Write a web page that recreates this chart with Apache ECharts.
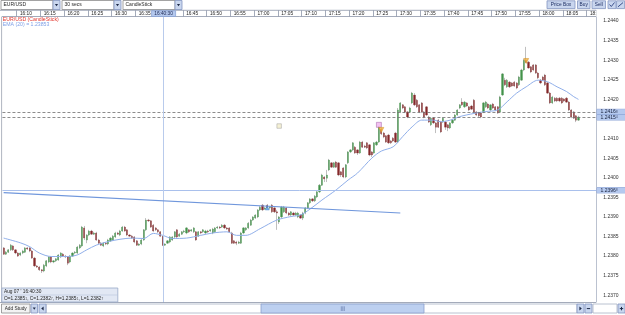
<!DOCTYPE html>
<html><head><meta charset="utf-8">
<script src="https://cdn.jsdelivr.net/npm/echarts@6/dist/echarts.min.js"></script>
<style>html,body{margin:0;padding:0;background:#fff;overflow:hidden}#c{width:625px;height:315px}</style>
</head><body><div id="c"></div>
<script>
// ---------------- data ----------------
const symbolName = 'EUR/USD';
const periodName = '30 secs';
const chartType = 'CandleStick';
const startTime = '16:07:00';
const stepSeconds = 30;
const slotCount = 250;
const timeTicks = ['16:10','16:15','16:20','16:25','16:30','16:35','16:40','16:45','16:50','16:55','17:00','17:05','17:10','17:15','17:20','17:25','17:30','17:35','17:40','17:45','17:50','17:55','18:00','18:05','18:10'];
const priceTicks = [1.2370,1.2375,1.2380,1.2385,1.2390,1.2395,1.2400,1.2405,1.2410,1.2415,1.2420,1.2425,1.2430,1.2435,1.2440];

const opens = [1.23821,1.23805,1.23810,1.23816,1.23826,1.23816,1.23808,1.23803,1.23808,1.23810,
1.23821,1.23821,1.23813,1.23795,1.23775,1.23772,1.23765,1.23762,1.23775,1.23785,
1.23798,1.23785,1.23788,1.23790,1.23798,1.23805,1.23800,1.23798,1.23785,1.23800,
1.23808,1.23808,1.23821,1.23826,1.23872,1.23841,1.23854,1.23864,1.23856,1.23859,
1.23841,1.23833,1.23826,1.23833,1.23831,1.23839,1.23841,1.23849,1.23859,1.23854,
1.23864,1.23874,1.23867,1.23854,1.23851,1.23849,1.23839,1.23828,1.23831,1.23841,
1.23867,1.23892,1.23890,1.23879,1.23872,1.23867,1.23862,1.23851,1.23828,1.23833,
1.23836,1.23841,1.23849,1.23867,1.23851,1.23856,1.23862,1.23859,1.23867,1.23864,
1.23862,1.23862,1.23851,1.23862,1.23862,1.23859,1.23864,1.23864,1.23859,1.23862,
1.23872,1.23874,1.23874,1.23879,1.23872,1.23872,1.23859,1.23839,1.23836,1.23833,
1.23833,1.23859,1.23867,1.23872,1.23879,1.23892,1.23897,1.23900,1.23918,1.23930,
1.23920,1.23930,1.23923,1.23930,1.23923,1.23913,1.23887,1.23900,1.23913,1.23923,
1.23910,1.23905,1.23910,1.23905,1.23900,1.23905,1.23897,1.23910,1.23923,1.23936,
1.23946,1.23941,1.23951,1.23964,1.23981,1.24002,1.23999,1.24020,1.24038,1.24027,
1.24040,1.24038,1.24015,1.24025,1.24002,1.24038,1.24066,1.24071,1.24078,1.24071,
1.24063,1.24091,1.24081,1.24089,1.24084,1.24066,1.24063,1.24084,1.24091,1.24124,
1.24114,1.24107,1.24109,1.24094,1.24101,1.24114,1.24091,1.24168,1.24186,1.24181,
1.24168,1.24168,1.24191,1.24211,1.24198,1.24186,1.24191,1.24168,1.24181,1.24155,
1.24135,1.24152,1.24140,1.24147,1.24142,1.24142,1.24142,1.24135,1.24127,1.24140,
1.24147,1.24160,1.24178,1.24193,1.24181,1.24191,1.24181,1.24183,1.24198,1.24168,
1.24165,1.24165,1.24168,1.24181,1.24188,1.24173,1.24188,1.24181,1.24181,1.24168,
1.24211,1.24249,1.24232,1.24244,1.24242,1.24244,1.24242,1.24237,1.24249,1.24275,
1.24300,1.24295,1.24283,1.24288,1.24288,1.24267,1.24249,1.24257,1.24262,1.24242,
1.24216,1.24191,1.24203,1.24203,1.24203,1.24203,1.24201,1.24203,1.24193,1.24173,
1.24168,1.24158,1.24147];

const closes = [1.23805,1.23810,1.23816,1.23828,1.23816,1.23808,1.23800,1.23808,1.23813,1.23821,
1.23818,1.23813,1.23795,1.23775,1.23772,1.23765,1.23762,1.23777,1.23788,1.23798,
1.23785,1.23788,1.23793,1.23803,1.23808,1.23800,1.23798,1.23782,1.23800,1.23808,
1.23810,1.23823,1.23828,1.23874,1.23846,1.23854,1.23864,1.23856,1.23859,1.23841,
1.23833,1.23828,1.23833,1.23831,1.23841,1.23846,1.23851,1.23859,1.23856,1.23864,
1.23874,1.23864,1.23854,1.23851,1.23846,1.23836,1.23828,1.23831,1.23841,1.23867,
1.23892,1.23890,1.23874,1.23864,1.23867,1.23862,1.23851,1.23827,1.23831,1.23839,
1.23849,1.23849,1.23862,1.23849,1.23856,1.23862,1.23864,1.23872,1.23862,1.23867,
1.23872,1.23841,1.23862,1.23859,1.23867,1.23864,1.23862,1.23867,1.23869,1.23872,
1.23874,1.23872,1.23879,1.23872,1.23869,1.23862,1.23833,1.23833,1.23833,1.23836,
1.23859,1.23872,1.23872,1.23884,1.23892,1.23900,1.23905,1.23918,1.23925,1.23918,
1.23923,1.23923,1.23925,1.23913,1.23913,1.23910,1.23900,1.23925,1.23925,1.23910,
1.23905,1.23913,1.23905,1.23910,1.23910,1.23897,1.23910,1.23923,1.23936,1.23946,
1.23941,1.23953,1.23964,1.23981,1.24007,1.23997,1.24007,1.24045,1.24027,1.24038,
1.24027,1.24007,1.24007,1.24002,1.24033,1.24066,1.24071,1.24089,1.24063,1.24063,
1.24091,1.24078,1.24078,1.24076,1.24058,1.24058,1.24089,1.24091,1.24129,1.24112,
1.24104,1.24091,1.24089,1.24089,1.24094,1.24091,1.24173,1.24191,1.24178,1.24168,
1.24155,1.24178,1.24216,1.24186,1.24181,1.24168,1.24168,1.24155,1.24160,1.24142,
1.24152,1.24140,1.24129,1.24129,1.24117,1.24152,1.24129,1.24127,1.24140,1.24147,
1.24160,1.24173,1.24186,1.24186,1.24193,1.24183,1.24173,1.24175,1.24168,1.24160,
1.24158,1.24155,1.24191,1.24193,1.24178,1.24186,1.24178,1.24173,1.24165,1.24206,
1.24265,1.24237,1.24249,1.24232,1.24234,1.24234,1.24229,1.24257,1.24275,1.24300,
1.24295,1.24280,1.24270,1.24275,1.24267,1.24255,1.24242,1.24249,1.24237,1.24216,
1.24191,1.24206,1.24196,1.24196,1.24196,1.24191,1.24196,1.24193,1.24173,1.24155,
1.24152,1.24147,1.24155];

const highs = [1.23823,1.23813,1.23818,1.23831,1.23828,1.23818,1.23810,1.23810,1.23816,1.23823,
1.23823,1.23823,1.23816,1.23798,1.23777,1.23775,1.23767,1.23780,1.23790,1.23800,
1.23800,1.23790,1.23795,1.23805,1.23810,1.23808,1.23803,1.23800,1.23803,1.23810,
1.23813,1.23826,1.23831,1.23877,1.23877,1.23856,1.23867,1.23867,1.23862,1.23862,
1.23844,1.23836,1.23836,1.23836,1.23844,1.23849,1.23854,1.23862,1.23862,1.23867,
1.23877,1.23877,1.23869,1.23856,1.23854,1.23851,1.23841,1.23833,1.23844,1.23869,
1.23897,1.23895,1.23892,1.23882,1.23874,1.23869,1.23864,1.23851,1.23833,1.23841,
1.23851,1.23851,1.23864,1.23869,1.23859,1.23864,1.23867,1.23874,1.23869,1.23869,
1.23874,1.23864,1.23864,1.23864,1.23869,1.23867,1.23867,1.23869,1.23872,1.23874,
1.23877,1.23877,1.23882,1.23882,1.23874,1.23874,1.23862,1.23841,1.23839,1.23839,
1.23862,1.23874,1.23874,1.23887,1.23895,1.23902,1.23907,1.23920,1.23928,1.23933,
1.23925,1.23933,1.23928,1.23933,1.23925,1.23918,1.23902,1.23928,1.23928,1.23925,
1.23913,1.23915,1.23913,1.23913,1.23913,1.23907,1.23913,1.23925,1.23938,1.23948,
1.23948,1.23956,1.23966,1.23984,1.24010,1.24004,1.24020,1.24048,1.24040,1.24040,
1.24043,1.24040,1.24017,1.24027,1.24035,1.24068,1.24073,1.24091,1.24081,1.24073,
1.24094,1.24094,1.24084,1.24091,1.24086,1.24068,1.24091,1.24094,1.24132,1.24127,
1.24117,1.24109,1.24112,1.24096,1.24104,1.24117,1.24178,1.24193,1.24188,1.24183,
1.24170,1.24181,1.24219,1.24216,1.24201,1.24188,1.24193,1.24170,1.24183,1.24158,
1.24155,1.24155,1.24142,1.24150,1.24145,1.24155,1.24145,1.24137,1.24142,1.24150,
1.24163,1.24175,1.24188,1.24203,1.24196,1.24193,1.24183,1.24186,1.24201,1.24170,
1.24168,1.24168,1.24193,1.24196,1.24191,1.24188,1.24191,1.24183,1.24183,1.24209,
1.24267,1.24255,1.24252,1.24247,1.24244,1.24247,1.24244,1.24260,1.24278,1.24303,
1.24334,1.24298,1.24285,1.24290,1.24290,1.24270,1.24252,1.24260,1.24265,1.24244,
1.24219,1.24209,1.24206,1.24206,1.24206,1.24206,1.24203,1.24206,1.24196,1.24175,
1.24170,1.24160,1.24158];

const lows = [1.23803,1.23803,1.23808,1.23813,1.23813,1.23805,1.23798,1.23800,1.23805,1.23808,
1.23816,1.23810,1.23793,1.23772,1.23770,1.23762,1.23757,1.23759,1.23772,1.23782,
1.23782,1.23782,1.23785,1.23788,1.23795,1.23798,1.23795,1.23777,1.23782,1.23798,
1.23805,1.23805,1.23818,1.23823,1.23841,1.23833,1.23851,1.23854,1.23854,1.23839,
1.23831,1.23826,1.23823,1.23828,1.23828,1.23836,1.23839,1.23846,1.23854,1.23851,
1.23862,1.23862,1.23851,1.23849,1.23844,1.23833,1.23826,1.23826,1.23828,1.23839,
1.23864,1.23887,1.23872,1.23862,1.23864,1.23859,1.23849,1.23827,1.23826,1.23831,
1.23833,1.23839,1.23846,1.23846,1.23849,1.23854,1.23859,1.23856,1.23859,1.23862,
1.23859,1.23839,1.23849,1.23856,1.23859,1.23856,1.23859,1.23862,1.23856,1.23859,
1.23869,1.23869,1.23872,1.23869,1.23867,1.23859,1.23831,1.23831,1.23828,1.23831,
1.23831,1.23856,1.23864,1.23869,1.23877,1.23890,1.23895,1.23897,1.23915,1.23915,
1.23918,1.23920,1.23920,1.23910,1.23910,1.23867,1.23882,1.23897,1.23910,1.23907,
1.23902,1.23902,1.23902,1.23902,1.23897,1.23895,1.23892,1.23907,1.23920,1.23933,
1.23938,1.23938,1.23948,1.23961,1.23979,1.23989,1.23989,1.24017,1.24025,1.24025,
1.24025,1.24004,1.24002,1.23999,1.23999,1.24035,1.24063,1.24068,1.24061,1.24058,
1.24061,1.24076,1.24076,1.24073,1.24055,1.24053,1.24061,1.24081,1.24089,1.24109,
1.24101,1.24089,1.24086,1.24086,1.24091,1.24089,1.24089,1.24165,1.24175,1.24165,
1.24152,1.24165,1.24188,1.24183,1.24178,1.24165,1.24165,1.24152,1.24158,1.24140,
1.24132,1.24137,1.24114,1.24127,1.24114,1.24140,1.24122,1.24119,1.24124,1.24137,
1.24145,1.24158,1.24175,1.24183,1.24178,1.24181,1.24170,1.24173,1.24165,1.24158,
1.24155,1.24152,1.24165,1.24178,1.24175,1.24170,1.24175,1.24170,1.24163,1.24165,
1.24209,1.24234,1.24229,1.24229,1.24232,1.24232,1.24226,1.24234,1.24247,1.24272,
1.24293,1.24278,1.24267,1.24272,1.24265,1.24252,1.24239,1.24247,1.24234,1.24214,
1.24188,1.24188,1.24193,1.24193,1.24193,1.24188,1.24193,1.24191,1.24170,1.24152,
1.24150,1.24142,1.24145];

// EMA(20) study at these candle positions
const emaIdx = [0,7,11,15,20,27,31,35,39,44,49,54,59,63,67,71,77,83,88,94,98,102,108,115,121,125,129,134,140,145,149,155,159,164,168,172,176,181,184,188,192,198,203,208,212,216,220,225,229,233,237,240,242];
const emaVals = [1.23846,1.23834,1.23824,1.23808,1.23799,1.23799,1.23803,1.23816,1.23828,1.23837,1.23843,1.23846,1.23845,1.23858,1.23853,1.23845,1.23846,1.23853,1.23859,1.23862,1.23853,1.23853,1.23870,1.23892,1.23901,1.23905,1.23920,1.23943,1.23969,1.23994,1.24012,1.24050,1.24068,1.24079,1.24105,1.24130,1.24147,1.24147,1.24143,1.24147,1.24156,1.24164,1.24169,1.24173,1.24194,1.24216,1.24232,1.24249,1.24245,1.24232,1.24220,1.24207,1.24200];

// drawn trend line (candle index, price)
const trendIdx = [0, 167];
const trendPrice = [1.23962, 1.23910];

// chart annotations
const markerIdx = [111, 116, 158, 159, 220];
const markerPrice = [1.23923, 1.24132, 1.24135, 1.24122, 1.24298];
const markerKind = ['pin', 'anchor', 'box', 'arrow', 'arrow'];

// crosshair and price lines
const crossIndex = 67;
const crossPrice = 1.23968;
const bidLine = 1.24168;
const askLine = 1.24154;
const crossDateLabel = "Aug 07 '";

// ---------------- build ----------------
function pad(n){return (n<10?'0':'')+n;}
function buildTimes(){
  const p = startTime.split(':').map(Number);
  const t0 = p[0]*3600+p[1]*60+p[2];
  const out = [];
  for (let k=0;k<slotCount;k++){
    const t=t0+k*stepSeconds;
    out.push(pad(Math.floor(t/3600))+':'+pad(Math.floor(t/60)%60)+':'+pad(t%60));
  }
  return out;
}
const times = buildTimes();
const crossTime = times[crossIndex];
const isTick = (i, v) => v.slice(6)==='00' && timeTicks.indexOf(v.slice(0,5))>=0;

const wickData = opens.map((o,i)=>[o, closes[i], lows[i], highs[i]]);
const bodyData = opens.map((o,i)=>[o, closes[i], Math.min(o,closes[i]), Math.max(o,closes[i])]);
const emaData = emaIdx.map((k,j)=>[k, emaVals[j]]);
const trendData = trendIdx.map((k,j)=>[k, trendPrice[j]]);
const markerStyle = {
  pin:    {symbol:'triangle', size:4, rotate:0, color:'#5ea6e8', border:'#3a7cc0'},
  anchor: {symbol:'rect', size:4.5, rotate:0, color:'#f3edca', border:'#9a9a9a'},
  box:    {symbol:'rect', size:5, rotate:0, color:'#f1b2ee', border:'#9a5aa0'},
  arrow:  {symbol:'triangle', size:5, rotate:180, color:'#f3b23c', border:'#d08a18'}
};
const markerData = markerIdx.map((k,j)=>{
  const s = markerStyle[markerKind[j]];
  return {value:[k, markerPrice[j]], symbol:s.symbol, symbolSize:s.size, symbolRotate:s.rotate,
          itemStyle:{color:s.color, borderColor:s.border, borderWidth:0.6}};
});
const splitPrice = v => { const s=v.toFixed(5); return [s.slice(0,6), s.slice(6)]; };
const emaAtCross = emaVals[emaIdx.indexOf(crossIndex)];

const FONT = 'Liberation Sans, Arial, sans-serif';
const upColor = '#43924a', downColor = '#84282a', wickColor = '#b8b8b8';
const gridL = 2.44, gridW = 593.8;

function R(x,y,w,h,fill,stroke,z){return {type:'rect',shape:{x:x,y:y,width:w,height:h},style:{fill:fill,stroke:stroke||null,lineWidth:stroke?0.8:0},z:z||100,silent:true};}
function T(x,y,text,o){o=o||{};const st={text:text,fill:o.color||'#1e1e1e',fontSize:o.size||5,fontFamily:FONT,align:o.align||'left',verticalAlign:'middle'}; if(o.rich) st.rich=o.rich; return {type:'text',x:x,y:y,style:st,z:o.z||110,silent:true};}
function L(x1,y1,x2,y2,color,z,w){return {type:'line',shape:{x1:x1,y1:y1,x2:x2,y2:y2},style:{stroke:color,lineWidth:w||0.8},z:z||105,silent:true};}
function P(points,fill,z){return {type:'polygon',shape:{points:points},style:{fill:fill},z:z||112,silent:true};}

const btnFill = '#c9d6ee', btnStroke = '#8396c0', btnText = '#1b2b60';
const G = [];
// header background
G.push(R(0,0,625,16.6,'#ffffff',null,100));
// dropdowns
[[1,symbolName],[62,periodName],[123,chartType]].forEach(d=>{
  const x=d[0];
  G.push(R(x,0.5,52,9,'#ffffff','#8c8c8c',105));
  G.push(T(x+2.5,5.1,d[1],{size:5}));
  G.push(R(x+52,0.5,7,9,btnFill,btnStroke,106));
  G.push(P([[x+53.9,4],[x+57.1,4],[x+55.5,6.3]],'#1e2a48'));
});
// right buttons
G.push(R(547,0.8,28,7.8,btnFill,btnStroke,105)); G.push(T(561,4.8,'Price Box',{align:'center',color:btnText,size:4.8}));
G.push(R(577.5,0.8,12.5,7.8,btnFill,btnStroke,105)); G.push(T(583.7,4.8,'Buy',{align:'center',color:btnText,size:4.8}));
G.push(R(592,0.8,13.5,7.8,btnFill,btnStroke,105)); G.push(T(598.7,4.8,'Sell',{align:'center',color:btnText,size:4.8}));
G.push(R(608,0.8,8,7.8,btnFill,btnStroke,105));
G.push(L(609.5,4.5,611.3,6.5,'#2a3f80',112,0.9)); G.push(L(611.3,6.5,614.5,2.5,'#2a3f80',112,0.9));
G.push(R(616.6,0.8,8,7.8,btnFill,btnStroke,105));
G.push(L(618,6.8,623,2.6,'#2a3f80',112,0.9));
// time row lines
G.push(L(0,10.3,596,10.3,'#8d96a8',105));
G.push(R(596.3,10.4,29,6.4,'#ffffff',null,250));
// crosshair time label
G.push(R(151.6,10.7,24,5.8,'#b5c9ee','#8aa3d6',300));
G.push(T(163.6,13.7,crossTime,{align:'center',size:4.8,z:310,color:'#1a2550'}));
// legend
G.push(T(2.8,19.3,symbolName+' ('+chartType+')',{color:'#e2342c',size:5.2,z:120}));
G.push(T(2.8,24.3,'EMA (20) = '+emaAtCross.toFixed(5),{color:'#7d9fe6',size:5.2,z:120}));
// left border
G.push(L(1.6,16.6,1.6,302.5,'#9aa2b0',105));
// footer
G.push(R(0,302.4,625,12.6,'#ffffff',null,100));
G.push(L(0,302.5,596,302.5,'#8d96a8',106));
G.push(R(1.5,304,28.5,9,'#f3f3f3','#8a8a8a',105)); G.push(T(15.7,308.6,'Add Study',{align:'center',size:4.8}));
G.push(R(31,304,6.5,9,btnFill,btnStroke,105)); G.push(P([[32.7,307.6],[35.8,307.6],[34.25,309.8]],'#1e2a48'));
G.push(R(39,304,7,9,btnFill,btnStroke,105)); G.push(P([[43.6,306.6],[43.6,310.6],[41.2,308.6]],'#1e2a48'));
G.push(R(46,304,531,9,'#ffffff','#a8b2c4',104));
G.push(R(261,304,163,9,'#bdd0f0','#8aa0cc',105));
G.push(L(341.3,306.3,341.3,311,'#6a80b0',112,0.7)); G.push(L(342.8,306.3,342.8,311,'#6a80b0',112,0.7)); G.push(L(344.3,306.3,344.3,311,'#6a80b0',112,0.7));
G.push(R(577,304,7,9,btnFill,btnStroke,105)); G.push(P([[579.4,306.6],[579.4,310.6],[581.8,308.6]],'#1e2a48'));
G.push(R(585,304,7,9,btnFill,btnStroke,105)); G.push(L(586.8,308.6,590.2,308.6,'#1e2a48',112,1));
G.push(R(593,304,24,9,'#ffffff','#a8b2c4',105));
G.push(R(618,304,7,9,btnFill,btnStroke,105)); G.push(L(619.8,308.6,623.2,308.6,'#1e2a48',112,1)); G.push(L(621.5,306.9,621.5,310.3,'#1e2a48',112,1));
// info box
const po = splitPrice(opens[crossIndex]), pc = splitPrice(closes[crossIndex]), ph = splitPrice(highs[crossIndex]), pl = splitPrice(lows[crossIndex]);
G.push(R(1.8,288,116,14,'#e2e8f4','#98a8c8',120));
G.push(L(1.8,295,117.8,295,'#b8c4dc',121,0.6));
G.push(T(4,291.7,crossDateLabel+' '+crossTime,{size:4.8,z:125}));
G.push(T(4,298.7,'O='+po[0]+'{s|'+po[1]+'}, C='+pc[0]+'{s|'+pc[1]+'}, H='+ph[0]+'{s|'+ph[1]+'}, L='+pl[0]+'{s|'+pl[1]+'}',
  {size:4.8,z:125,rich:{s:{fontSize:3.6,fill:'#555',fontFamily:FONT}}}));

const lineLabel = (v)=>{
  const sp = splitPrice(v);
  return {show:true,position:'end',distance:0.8,formatter:'{m|'+sp[0]+'}{s|'+sp[1]+'}',
    backgroundColor:'#b5c9ef',borderColor:'#8aa2d6',borderWidth:0.5,padding:[0,8,0,3.5],lineHeight:5.2,
    rich:{m:{fontSize:5,fontFamily:FONT,color:'#17213d',lineHeight:5.2},s:{fontSize:3.6,fontFamily:FONT,color:'#4a5678',lineHeight:5.2}}};
};

const chart = echarts.init(document.getElementById('c'), null, {renderer:'canvas'});
chart.setOption({
  animation:false,
  backgroundColor:'#ffffff',
  grid:[
    {left:gridL, width:gridW, top:1.4, height:313.5, containLabel:false},
    {left:gridL, width:gridW, top:10.3, height:6.2, containLabel:false}
  ],
  xAxis:[
    {type:'category', data:times, gridIndex:0, boundaryGap:true, show:false},
    {type:'category', data:times, gridIndex:1, boundaryGap:true, position:'bottom', z:200,
     axisLine:{show:true, lineStyle:{color:'#8d96a8', width:0.8}},
     axisTick:{show:true, inside:true, length:6.2, interval:isTick, lineStyle:{color:'#8d96a8', width:0.8}},
     axisLabel:{show:true, inside:true, interval:isTick, align:'left', verticalAlign:'middle', margin:2.6,
       padding:[0,0,0,2], fontSize:4.8, fontFamily:FONT, color:'#222', formatter:v=>v.slice(0,5)},
     splitLine:{show:false}}
  ],
  yAxis:[
    {type:'value', gridIndex:0, position:'right', min:1.2365, max:1.2445, interval:0.0005, scale:true,
     splitLine:{show:false}, axisTick:{show:false},
     axisLine:{show:true, lineStyle:{color:'#a9b3c4', width:0.8}},
     axisLabel:{fontSize:5, fontFamily:FONT, color:'#333', margin:7, hideOverlap:false,
       formatter:v=>{
         const hit = priceTicks.find(p=>Math.abs(p-v)<1e-6);
         if (hit===undefined) return '';
         if (Math.abs(v-bidLine)<0.0001 || Math.abs(v-askLine)<0.0001) return '';
         return hit.toFixed(4);
       }}},
    {type:'value', gridIndex:1, show:false}
  ],
  series:[
    {type:'candlestick', name:'wick', xAxisIndex:0, yAxisIndex:0, data:wickData, barWidth:0.9, silent:true, z:2,
     itemStyle:{color:wickColor, color0:wickColor, borderColor:wickColor, borderColor0:wickColor, borderWidth:0.9}},
    {type:'candlestick', name:'body', xAxisIndex:0, yAxisIndex:0, data:bodyData, barWidth:1.7, silent:true, z:3,
     itemStyle:{color:upColor, color0:downColor, borderColor:upColor, borderColor0:downColor, borderWidth:0.3},
     markLine:{symbol:'none', silent:true, animation:false, precision:5, data:[
       {yAxis:bidLine, lineStyle:{type:[3,2], color:'#6e6e6e', width:0.8}, label:lineLabel(bidLine)},
       {yAxis:askLine, lineStyle:{type:[3,2], color:'#6e6e6e', width:0.8}, label:lineLabel(askLine)},
       {yAxis:crossPrice, lineStyle:{type:'solid', color:'#a9c0ec', width:1}, label:lineLabel(crossPrice)},
       {xAxis:crossTime, lineStyle:{type:'solid', color:'#b9cbec', width:1}, label:{show:false}}
     ]}},
    {type:'line', name:'EMA (20)', xAxisIndex:0, yAxisIndex:0, data:emaData, showSymbol:false, smooth:0.3, silent:true, z:4,
     lineStyle:{color:'#90afea', width:1}},
    {type:'line', name:'trend', xAxisIndex:0, yAxisIndex:0, data:trendData, showSymbol:false, silent:true, z:5,
     lineStyle:{color:'#7097dc', width:1.1}},
    {type:'scatter', name:'marks', xAxisIndex:0, yAxisIndex:0, data:markerData, silent:true, z:6}
  ],
  graphic:{elements:G}
});
</script>
</body></html>
